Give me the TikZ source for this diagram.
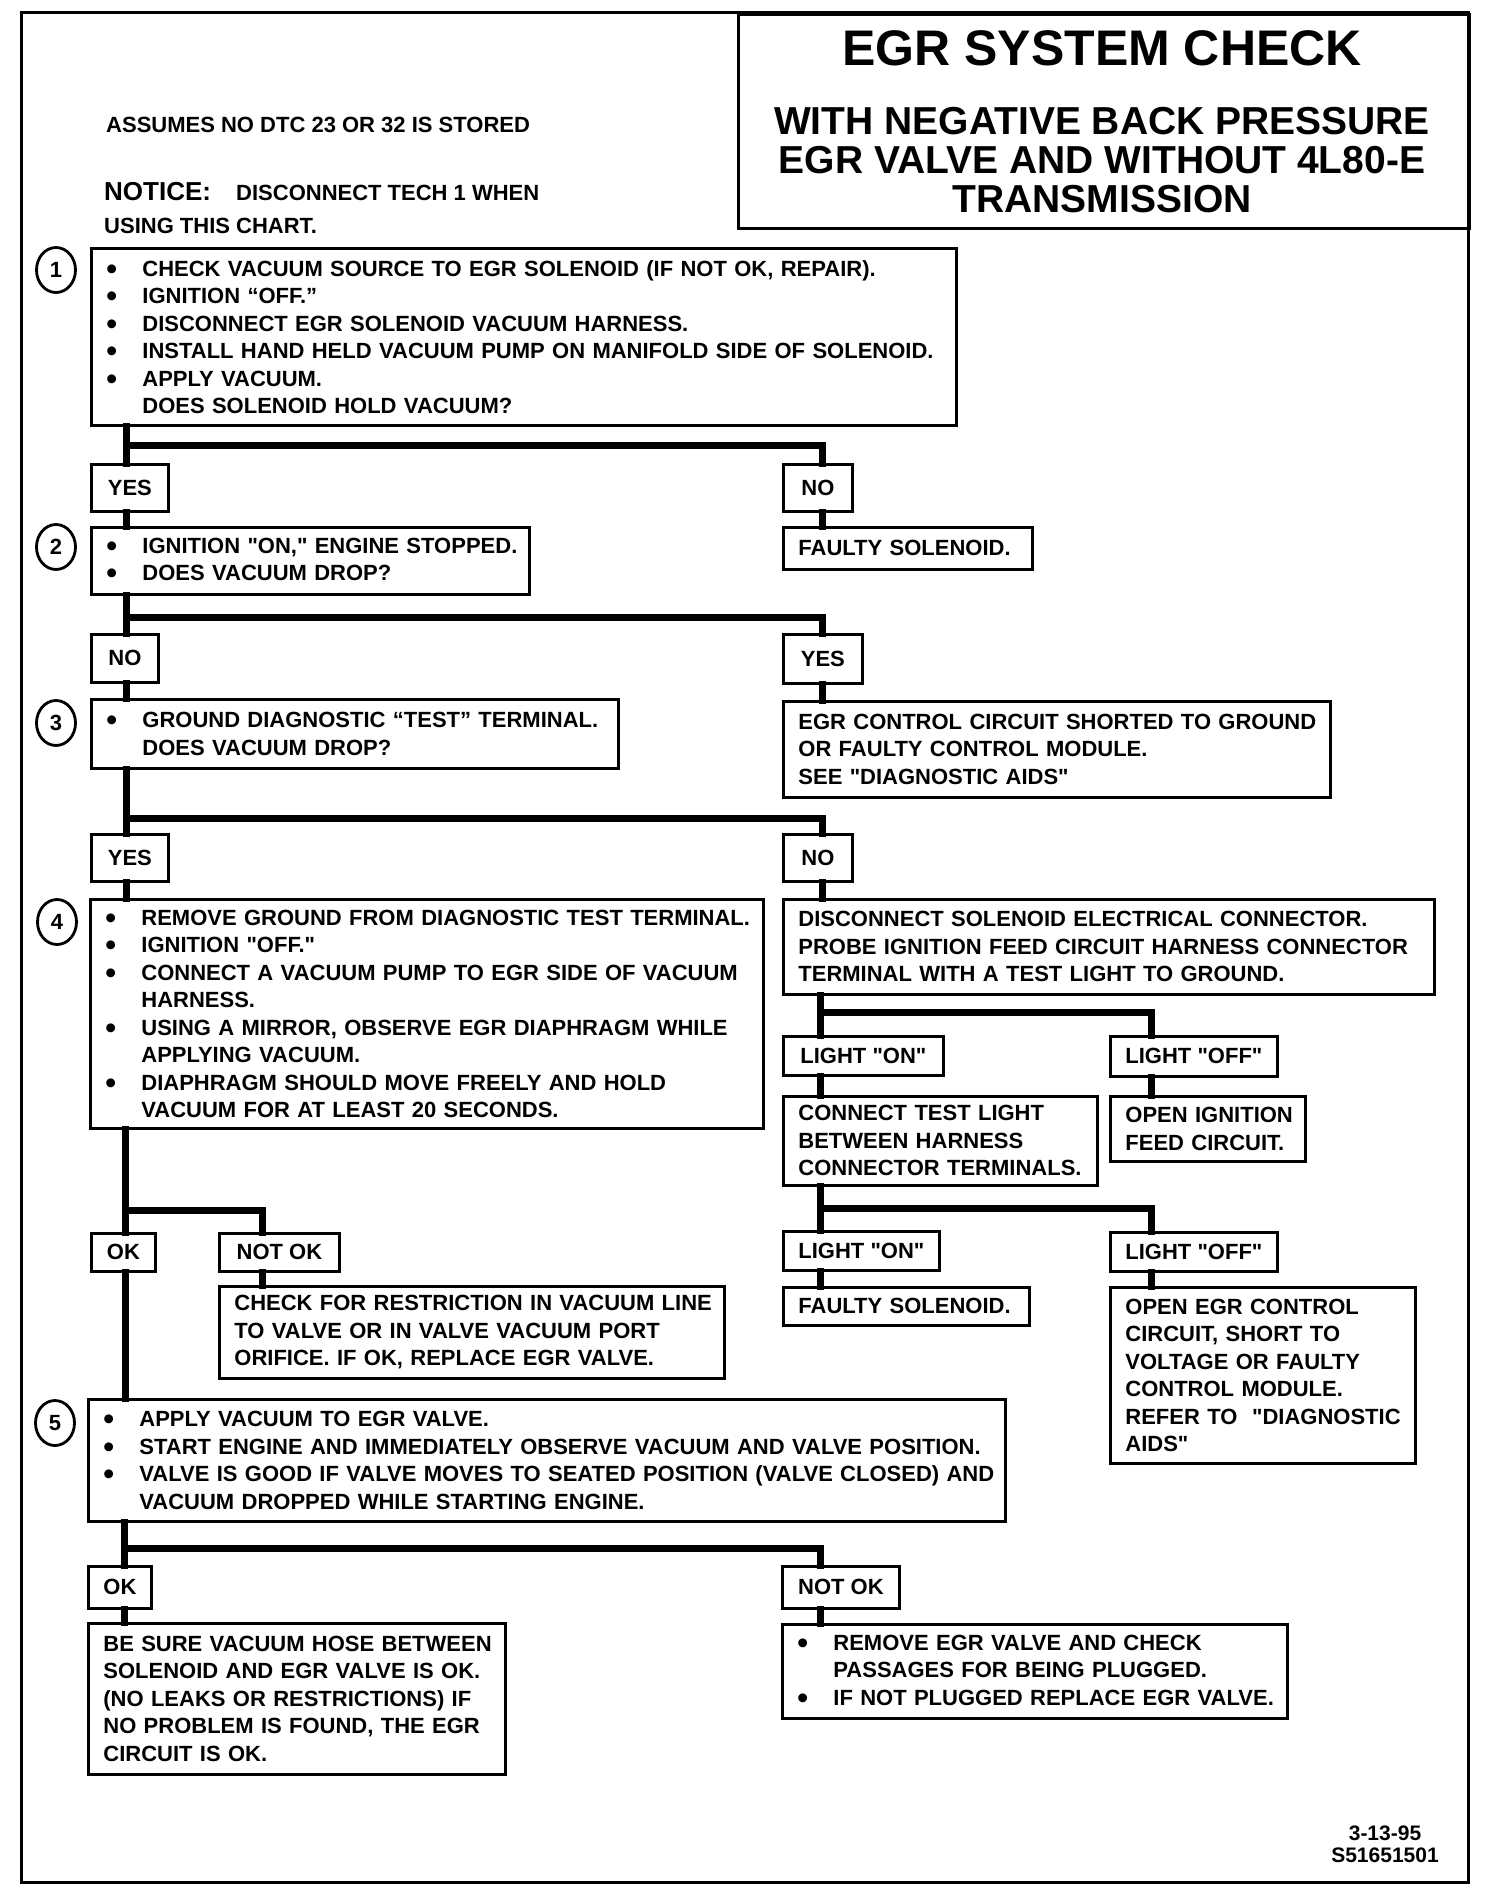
\documentclass[tikz,border=0pt]{standalone}
\usepackage{fontspec}
\newfontfamily\egrf{Liberation Sans}
\usetikzlibrary{shapes.geometric}
\newcommand{\bul}{\makebox[36pt][l]{\raisebox{-3.2pt}{\scalebox{1.4}{\textbullet}}}}
\newcommand{\ind}{\hspace*{36pt}}
\newcommand{\Li}[1]{\mbox{#1}}
\tikzset{
  box/.style={draw, line width=2.8pt, anchor=north west, align=left, inner xsep=15pt, inner ysep=0pt,
    font=\egrf\bfseries\fontsize{22}{27.5}\selectfont},
  lab/.style={draw, line width=2.8pt, anchor=north west, align=center, inner sep=0pt,
    font=\egrf\bfseries\fontsize{22}{27.5}\selectfont},
  num/.style={draw, ellipse, line width=2.8pt, minimum width=39pt, minimum height=45pt, inner sep=0pt,
    font=\egrf\bfseries\fontsize{22}{24}\selectfont},
  plain/.style={inner sep=0pt, font=\egrf\bfseries\fontsize{22}{22}\selectfont},
  conn/.style={line width=7pt, line join=miter, line cap=rect}
}
\begin{document}
\begin{tikzpicture}[x=1pt,y=-1pt]
\useasboundingbox (0,0) rectangle (1488,1892);
\fill[white] (0,0) rectangle (1488,1892);
\draw[line width=3pt] (21,13) rectangle (1468,1882);

% title
\node[draw, line width=3pt, anchor=north west, minimum width=731pt, minimum height=214pt, inner sep=0pt] (tbox) at (737,13) {};
\node[inner sep=0pt, font=\egrf\bfseries\fontsize{50}{50}\selectfont] (t1) at (1102,48) {EGR SYSTEM CHECK};
\node[inner sep=0pt, align=center, font=\egrf\bfseries\fontsize{39}{39}\selectfont] (t2) at (1102,160)
  {WITH NEGATIVE BACK PRESSURE\\EGR VALVE AND WITHOUT 4L80-E\\TRANSMISSION};

% header notes
\node[plain, anchor=base west] (assume) at (106,132) {ASSUMES NO DTC 23 OR 32 IS STORED};
\node[plain, anchor=base west, font=\egrf\bfseries\fontsize{26}{26}\selectfont] (notice) at (104,200) {NOTICE:};
\node[plain, anchor=base west] (notice2) at (236,200) {DISCONNECT TECH 1 WHEN};
\node[plain, anchor=base west] (using) at (104,233) {USING THIS CHART.};

% step numbers
\node[num] (c1) at (56,270) {1};
\node[num] (c2) at (56,547) {2};
\node[num] (c3) at (56,723) {3};
\node[num] (c4) at (57,922) {4};
\node[num] (c5) at (55,1423) {5};

% step 1
\node[box, minimum width=865pt, minimum height=177pt, text width=835pt] (b1) at (90,247)
  {\Li{\bul CHECK VACUUM SOURCE TO EGR SOLENOID (IF NOT OK, REPAIR).}\\
   \Li{\bul IGNITION “OFF.”}\\
   \Li{\bul DISCONNECT EGR SOLENOID VACUUM HARNESS.}\\
   \Li{\bul INSTALL HAND HELD VACUUM PUMP ON MANIFOLD SIDE OF SOLENOID.}\\
   \Li{\bul APPLY VACUUM.}\\
   \Li{\ind DOES SOLENOID HOLD VACUUM?}};
\node[lab, minimum width=77pt, minimum height=47pt] (yes1) at (90,463) {YES};
\node[lab, minimum width=69pt, minimum height=47pt] (no1) at (782,463) {NO};
\node[box, minimum width=249pt, minimum height=42pt, text width=219pt] (fs1) at (782,526) {\Li{FAULTY SOLENOID.}};

% step 2
\node[box, minimum width=438pt, minimum height=67pt, text width=408pt] (b2) at (90,526)
  {\Li{\bul IGNITION "ON," ENGINE STOPPED.}\\
   \Li{\bul DOES VACUUM DROP?}};
\node[lab, minimum width=67pt, minimum height=48pt] (no2) at (90,633) {NO};
\node[lab, minimum width=79pt, minimum height=49pt] (yes2) at (782,633) {YES};
\node[box, minimum width=547pt, minimum height=96pt, text width=517pt] (egrc) at (782,700)
  {\Li{EGR CONTROL CIRCUIT SHORTED TO GROUND}\\
   \Li{OR FAULTY CONTROL MODULE.}\\
   \Li{SEE "DIAGNOSTIC AIDS"}};

% step 3
\node[box, minimum width=527pt, minimum height=69pt, text width=497pt] (b3) at (90,698)
  {\Li{\bul GROUND DIAGNOSTIC “TEST” TERMINAL.}\\
   \Li{\ind DOES VACUUM DROP?}};
\node[lab, minimum width=77pt, minimum height=47pt] (yes3) at (90,833) {YES};
\node[lab, minimum width=69pt, minimum height=47pt] (no3) at (782,833) {NO};

% step 4
\node[box, minimum width=673pt, minimum height=229pt, text width=643pt] (b4) at (89,898)
  {\Li{\bul REMOVE GROUND FROM DIAGNOSTIC TEST TERMINAL.}\\
   \Li{\bul IGNITION "OFF."}\\
   \Li{\bul CONNECT A VACUUM PUMP TO EGR SIDE OF VACUUM}\\
   \Li{\ind HARNESS.}\\
   \Li{\bul USING A MIRROR, OBSERVE EGR DIAPHRAGM WHILE}\\
   \Li{\ind APPLYING VACUUM.}\\
   \Li{\bul DIAPHRAGM SHOULD MOVE FREELY AND HOLD}\\
   \Li{\ind VACUUM FOR AT LEAST 20 SECONDS.}};
\node[box, minimum width=651pt, minimum height=95pt, text width=621pt] (disc) at (782,898)
  {\Li{DISCONNECT SOLENOID ELECTRICAL CONNECTOR.}\\
   \Li{PROBE IGNITION FEED CIRCUIT HARNESS CONNECTOR}\\
   \Li{TERMINAL WITH A TEST LIGHT TO GROUND.}};
\node[lab, minimum width=160pt, minimum height=39pt] (lon1) at (782,1035) {LIGHT "ON"};
\node[lab, minimum width=167pt, minimum height=40pt] (loff1) at (1109,1035) {LIGHT "OFF"};
\node[box, minimum width=314pt, minimum height=89pt, text width=284pt] (ctl) at (782,1095)
  {\Li{CONNECT TEST LIGHT}\\
   \Li{BETWEEN HARNESS}\\
   \Li{CONNECTOR TERMINALS.}};
\node[box, minimum width=195pt, minimum height=65pt, text width=165pt] (oif) at (1109,1095)
  {\Li{OPEN IGNITION}\\
   \Li{FEED CIRCUIT.}};
\node[lab, minimum width=156pt, minimum height=39pt] (lon2) at (782,1230) {LIGHT "ON"};
\node[lab, minimum width=167pt, minimum height=39pt] (loff2) at (1109,1231) {LIGHT "OFF"};
\node[box, minimum width=246pt, minimum height=38pt, text width=216pt] (fs2) at (782,1286) {\Li{FAULTY SOLENOID.}};
\node[box, minimum width=305pt, minimum height=176pt, text width=275pt] (oegr) at (1109,1286)
  {\Li{OPEN EGR CONTROL}\\
   \Li{CIRCUIT, SHORT TO}\\
   \Li{VOLTAGE OR FAULTY}\\
   \Li{CONTROL MODULE.}\\
   \Li{REFER TO~ "DIAGNOSTIC}\\
   \Li{AIDS"}};
\node[lab, minimum width=64pt, minimum height=38pt] (ok1) at (90,1232) {OK};
\node[lab, minimum width=120pt, minimum height=38pt] (notok1) at (218,1232) {NOT OK};
\node[box, minimum width=505pt, minimum height=92pt, text width=475pt] (chk) at (218,1285)
  {\Li{CHECK FOR RESTRICTION IN VACUUM LINE}\\
   \Li{TO VALVE OR IN VALVE VACUUM PORT}\\
   \Li{ORIFICE. IF OK, REPLACE EGR VALVE.}};

% step 5
\node[box, minimum width=917pt, minimum height=122pt, text width=887pt] (b5) at (87,1398)
  {\Li{\bul APPLY VACUUM TO EGR VALVE.}\\
   \Li{\bul START ENGINE AND IMMEDIATELY OBSERVE VACUUM AND VALVE POSITION.}\\
   \Li{\bul VALVE IS GOOD IF VALVE MOVES TO SEATED POSITION (VALVE CLOSED) AND}\\
   \Li{\ind VACUUM DROPPED WHILE STARTING ENGINE.}};
\node[lab, minimum width=63pt, minimum height=42pt] (ok2) at (87,1565) {OK};
\node[lab, minimum width=117pt, minimum height=42pt] (notok2) at (781,1565) {NOT OK};
\node[box, minimum width=417pt, minimum height=151pt, text width=387pt] (besure) at (87,1622)
  {\Li{BE SURE VACUUM HOSE BETWEEN}\\
   \Li{SOLENOID AND EGR VALVE IS OK.}\\
   \Li{(NO LEAKS OR RESTRICTIONS) IF}\\
   \Li{NO PROBLEM IS FOUND, THE EGR}\\
   \Li{CIRCUIT IS OK.}};
\node[box, minimum width=505pt, minimum height=94pt, text width=475pt] (remove) at (781,1623)
  {\Li{\bul REMOVE EGR VALVE AND CHECK}\\
   \Li{\ind PASSAGES FOR BEING PLUGGED.}\\
   \Li{\bul IF NOT PLUGGED REPLACE EGR VALVE.}};

\node[plain, align=center, font=\egrf\bfseries\fontsize{21}{22}\selectfont] (date) at (1385,1844) {3-13-95\\S51651501};

% junctions
\coordinate (j1) at (126,445);  \coordinate (k1) at (822,445);
\coordinate (j2) at (126,617);  \coordinate (k2) at (822,617);
\coordinate (j3) at (126,818);  \coordinate (k3) at (822,818);
\coordinate (j6) at (820,1012); \coordinate (k6) at (1151,1012);
\coordinate (j7) at (820,1208); \coordinate (k7) at (1151,1208);
\coordinate (j4) at (125,1210); \coordinate (k4) at (262,1210);
\coordinate (j5) at (124,1548); \coordinate (k5) at (820,1548);

% connectors
\draw[conn] (b1.south -| j1) -- (yes1.north -| j1);
\draw[conn] (j1) -| (no1.north -| k1);
\draw[conn] (yes1.south -| j1) -- (b2.north -| j1);
\draw[conn] (no1.south -| k1) -- (fs1.north -| k1);

\draw[conn] (b2.south -| j2) -- (no2.north -| j2);
\draw[conn] (j2) -| (yes2.north -| k2);
\draw[conn] (no2.south -| j2) -- (b3.north -| j2);
\draw[conn] (yes2.south -| k2) -- (egrc.north -| k2);

\draw[conn] (b3.south -| j3) -- (yes3.north -| j3);
\draw[conn] (j3) -| (no3.north -| k3);
\draw[conn] (yes3.south -| j3) -- (b4.north -| j3);
\draw[conn] (no3.south -| k3) -- (disc.north -| k3);

\draw[conn] (disc.south -| j6) -- (lon1.north -| j6);
\draw[conn] (j6) -| (loff1.north -| k6);
\draw[conn] (lon1.south -| j6) -- (ctl.north -| j6);
\draw[conn] (loff1.south -| k6) -- (oif.north -| k6);

\draw[conn] (ctl.south -| j7) -- (lon2.north -| j7);
\draw[conn] (j7) -| (loff2.north -| k7);
\draw[conn] (lon2.south -| j7) -- (fs2.north -| j7);
\draw[conn] (loff2.south -| k7) -- (oegr.north -| k7);

\draw[conn] (b4.south -| j4) -- (ok1.north -| j4);
\draw[conn] (j4) -| (notok1.north -| k4);
\draw[conn] (ok1.south -| j4) -- (b5.north -| j4);
\draw[conn] (notok1.south -| k4) -- (chk.north -| k4);

\draw[conn] (b5.south -| j5) -- (ok2.north -| j5);
\draw[conn] (j5) -| (notok2.north -| k5);
\draw[conn] (ok2.south -| j5) -- (besure.north -| j5);
\draw[conn] (notok2.south -| k5) -- (remove.north -| k5);
\end{tikzpicture}
\end{document}
